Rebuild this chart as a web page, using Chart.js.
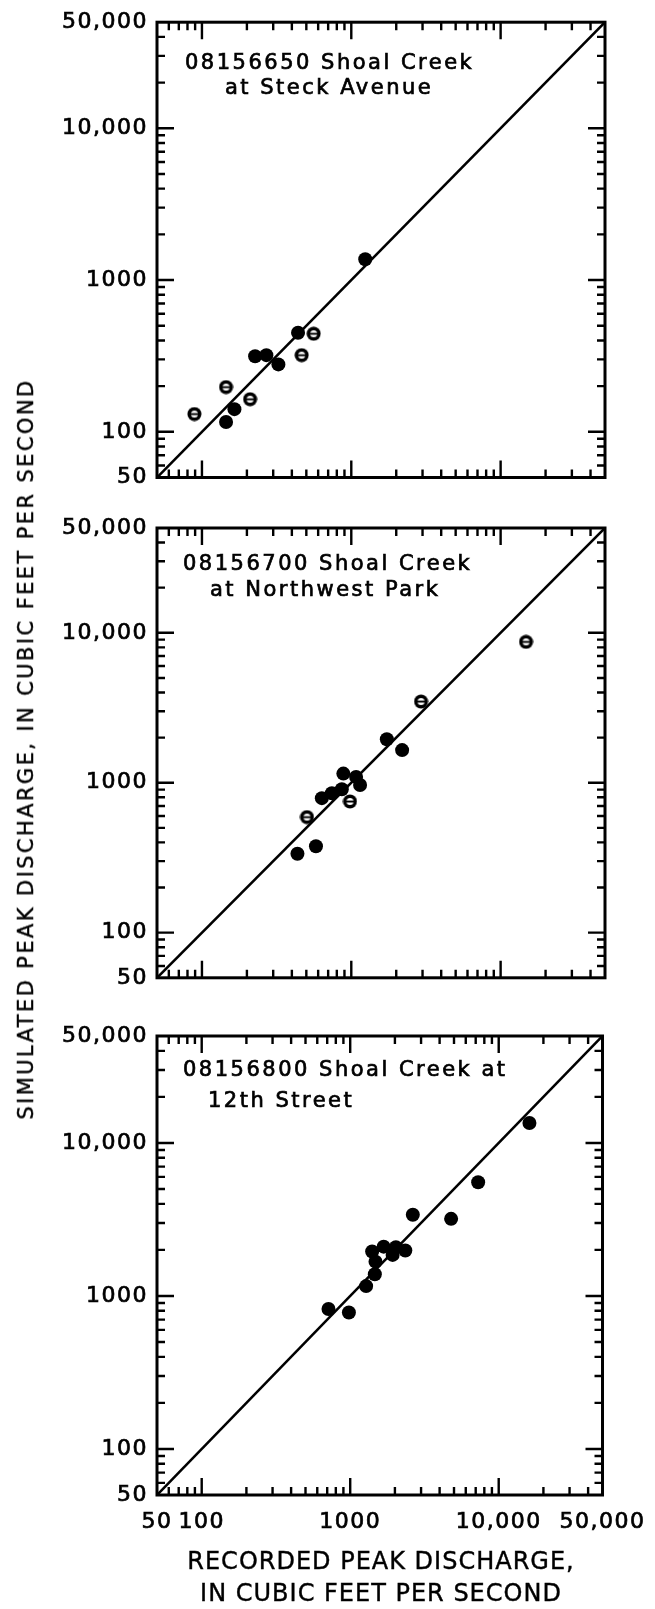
<!DOCTYPE html>
<html>
<head>
<meta charset="utf-8">
<script src="https://cdn.jsdelivr.net/npm/chart.js@4.4.1/dist/chart.umd.min.js"></script>
<style>
  html, body { margin: 0; padding: 0; background: #fff; }
  body { width: 655px; height: 1609px; position: relative; overflow: hidden; font-family: "DejaVu Sans", sans-serif; color: #000; }
  canvas { position: absolute; left: 0; }
  #yTitle { position: absolute; left: 26px; top: 749px; transform: translate(-50%, -50%) rotate(-90deg); white-space: nowrap; font-size: 21px; letter-spacing: 2.4px; -webkit-text-stroke: 0.4px #000; }
  #xTitle { position: absolute; left: 181px; width: 400px; top: 1545px; text-align: center; font-size: 24px; line-height: 32px; letter-spacing: 1px; white-space: nowrap; -webkit-text-stroke: 0.4px #000; }
</style>
</head>
<body>
<canvas id="steck" width="655" height="500" style="top:0px"></canvas>
<canvas id="northwest" width="655" height="500" style="top:500px"></canvas>
<canvas id="twelfth" width="655" height="609" style="top:1000px"></canvas>
<div id="yTitle">SIMULATED PEAK DISCHARGE, IN CUBIC FEET PER SECOND</div>
<div id="xTitle">RECORDED PEAK DISCHARGE,<br>IN CUBIC FEET PER SECOND</div>
<script>
// axis ticks shared by all three panels (log scale, 50 to 50,000 cfs)
const tickValues = [50, 100, 1000, 10000, 50000];
const tickLabels = ['50', '100', '1000', '10,000', '50,000'];
const oneToOne = [50, 50000];

// 08156650 Shoal Creek at Steck Avenue
const steckTitle = ['08156650 Shoal Creek', 'at Steck Avenue'];
const steckRecorded = [1240, 440, 227, 270, 325, 165, 145];
const steckSimulated = [1370, 450, 315, 320, 278, 141, 116];
const steckRecordedEst = [560, 465, 145, 210, 89];
const steckSimulatedEst = [443, 320, 197, 164, 131];

// 08156700 Shoal Creek at Northwest Park
const northwestTitle = ['08156700 Shoal Creek', 'at Northwest Park'];
const northwestRecorded = [1730, 2190, 885, 1077, 1145, 635, 741, 864, 436, 580];
const northwestSimulated = [1950, 1650, 1151, 1094, 966, 789, 851, 904, 336, 377];
const northwestRecordedEst = [14800, 2930, 980, 505];
const northwestSimulatedEst = [8700, 3480, 750, 590];

// 08156800 Shoal Creek at 12th Street
const twelfthTitle = ['08156800 Shoal Creek at', '12th Street'];
const twelfthRecorded = [16100, 7270, 4780, 2640, 2350, 2030, 1930, 1680, 1405, 1480, 1465, 1280, 714, 980];
const twelfthSimulated = [13500, 5540, 3190, 3390, 1980, 2080, 1855, 2100, 1950, 1675, 1385, 1160, 822, 780];
const twelfthRecordedEst = [];
const twelfthSimulatedEst = [];

// "e" marker for the open symbols
const estMarker = document.createElement('canvas');
estMarker.width = 15;
estMarker.height = 15;
const m = estMarker.getContext('2d');
m.fillStyle = '#000';
m.beginPath(); m.arc(7.5, 7.5, 7, 0, Math.PI * 2); m.fill();
m.fillStyle = '#fff';
m.beginPath(); m.arc(7.5, 7.5, 3.5, 0, Math.PI * 2); m.fill();
m.fillStyle = '#000';
m.fillRect(3, 6.6, 9, 1.9);

function zip(xs, ys) {
  return xs.map((x, i) => ({ x: x, y: ys[i] }));
}

// frame plus inward tick marks on all four sides
const frameTicks = {
  id: 'frameTicks',
  afterDraw(chart) {
    const ctx = chart.ctx;
    const a = chart.chartArea;
    const xs = chart.scales.x, ys = chart.scales.y;
    ctx.save();
    ctx.strokeStyle = '#000';
    ctx.lineWidth = 2.4;
    ctx.beginPath();
    for (let base = 10; base <= 10000; base *= 10) {
      for (let k = 1; k <= 9; k++) {
        const v = k * base;
        if (v <= 50 || v >= 50000) continue;
        const len = k === 1 ? 17 : 8;
        const px = xs.getPixelForValue(v);
        ctx.moveTo(px, a.bottom); ctx.lineTo(px, a.bottom - len);
        ctx.moveTo(px, a.top); ctx.lineTo(px, a.top + len);
        const py = ys.getPixelForValue(v);
        ctx.moveTo(a.left, py); ctx.lineTo(a.left + len, py);
        ctx.moveTo(a.right, py); ctx.lineTo(a.right - len, py);
      }
    }
    ctx.stroke();
    ctx.lineWidth = 3;
    ctx.strokeRect(a.left, a.top, a.right - a.left, a.bottom - a.top);
    ctx.restore();
  }
};

// station name written inside the upper left of each panel
const stationLabel = {
  id: 'stationLabel',
  beforeDraw(chart) {
    chart.ctx.letterSpacing = '1.5px';
  },
  afterDraw(chart, args, opts) {
    const ctx = chart.ctx;
    const a = chart.chartArea;
    ctx.save();
    ctx.fillStyle = '#000';
    ctx.strokeStyle = '#000';
    ctx.lineWidth = 0.7;
    ctx.font = '21px "DejaVu Sans"';
    ctx.letterSpacing = '2.5px';
    ctx.textBaseline = 'middle';
    opts.lines.forEach((t, i) => {
      ctx.fillText(t, a.left + opts.at[i][0], a.top + opts.at[i][1]);
      ctx.strokeText(t, a.left + opts.at[i][0], a.top + opts.at[i][1]);
    });
    ctx.restore();
  }
};

function makePanel(id, title, at, rec, sim, recEst, simEst, padTop, padBottom, showX) {
  const datasets = [
    {
      label: '1:1 line', data: zip(oneToOne, oneToOne), showLine: true,
      borderColor: '#000', borderWidth: 2.6, pointRadius: 0, order: 3
    },
    {
      label: 'Peaks', data: zip(rec, sim), pointStyle: 'circle',
      pointRadius: 7, backgroundColor: '#000', borderWidth: 0, order: 1
    }
  ];
  if (recEst.length) {
    datasets.push({
      label: 'Estimated', data: zip(recEst, simEst), pointStyle: estMarker,
      pointRadius: 7, order: 1
    });
  }
  const tickFont = { family: '"DejaVu Sans"', size: 22 };
  return new Chart(document.getElementById(id), {
    type: 'scatter',
    data: { datasets: datasets },
    plugins: [frameTicks, stationLabel],
    options: {
      responsive: false,
      animation: false,
      events: [],
      layout: { padding: { left: 0, right: 50, top: padTop, bottom: padBottom } },
      plugins: {
        legend: { display: false },
        tooltip: { enabled: false },
        stationLabel: { lines: title, at: at }
      },
      scales: {
        x: {
          type: 'logarithmic', min: 50, max: 50000,
          grid: { display: false, drawTicks: false },
          border: { display: false },
          ticks: {
            display: showX, color: '#000', font: tickFont, padding: 14,
            textStrokeColor: '#000', textStrokeWidth: 0.7,
            maxRotation: 0, autoSkip: false,
            callback: v => tickLabels[tickValues.indexOf(v)]
          },
          afterBuildTicks: s => { s.ticks = tickValues.map(v => ({ value: v })); },
          afterFit: s => { s.height = showX ? 114 : 0; }
        },
        y: {
          type: 'logarithmic', min: 50, max: 50000,
          grid: { display: false, drawTicks: false },
          border: { display: false },
          ticks: {
            color: '#000', font: tickFont, padding: 9, autoSkip: false,
            textStrokeColor: '#000', textStrokeWidth: 0.7,
            callback: v => tickLabels[tickValues.indexOf(v)]
          },
          afterBuildTicks: s => { s.ticks = tickValues.map(v => ({ value: v })); },
          afterFit: s => { s.width = 157; }
        }
      }
    }
  });
}

makePanel('steck', steckTitle, [[28, 41], [68, 66]],
  steckRecorded, steckSimulated, steckRecordedEst, steckSimulatedEst, 19.5, 22.5, false);
makePanel('northwest', northwestTitle, [[26, 37], [53, 63]],
  northwestRecorded, northwestSimulated, northwestRecordedEst, northwestSimulatedEst, 28, 13, false);
makePanel('twelfth', twelfthTitle, [[26, 35], [51, 65.5]],
  twelfthRecorded, twelfthSimulated, twelfthRecordedEst, twelfthSimulatedEst, 36, 0, true);
</script>
</body>
</html>
